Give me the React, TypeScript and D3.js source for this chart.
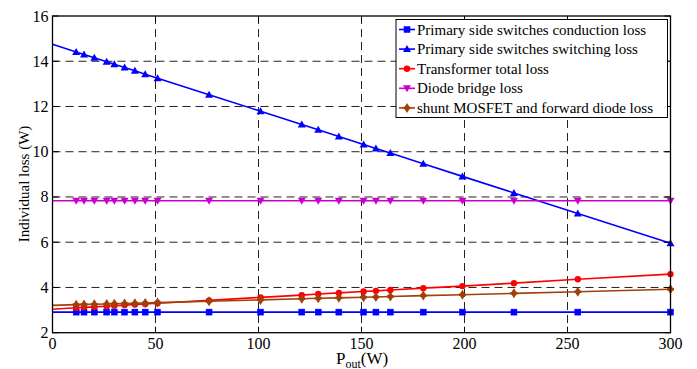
import React from "react";
import * as d3 from "d3";

const xValues = [0, 11.5, 15.3, 20.3, 26.3, 30, 35, 40, 45, 51, 76, 101, 121, 129, 139, 151, 157, 164, 180, 199, 224, 255, 300];
const conductionLoss = [2.91, 2.91, 2.91, 2.91, 2.91, 2.91, 2.91, 2.91, 2.91, 2.91, 2.91, 2.91, 2.91, 2.91, 2.91, 2.91, 2.91, 2.91, 2.91, 2.91, 2.91, 2.91, 2.91];
const switchingLoss = [14.75, 14.41, 14.3, 14.15, 13.98, 13.87, 13.72, 13.58, 13.43, 13.25, 12.52, 11.79, 11.2, 10.97, 10.67, 10.32, 10.14, 9.94, 9.47, 8.91, 8.18, 7.27, 5.95];
const transformerLoss = [3.04, 3.1, 3.12, 3.14, 3.17, 3.19, 3.22, 3.25, 3.27, 3.3, 3.43, 3.56, 3.66, 3.71, 3.76, 3.82, 3.85, 3.89, 3.97, 4.06, 4.19, 4.36, 4.59];
const diodeBridgeLoss = [7.83, 7.83, 7.83, 7.83, 7.83, 7.83, 7.83, 7.83, 7.83, 7.83, 7.83, 7.83, 7.83, 7.83, 7.83, 7.83, 7.83, 7.83, 7.83, 7.83, 7.83, 7.83, 7.83];
const shuntLoss = [3.21, 3.24, 3.25, 3.26, 3.27, 3.28, 3.29, 3.3, 3.31, 3.33, 3.39, 3.45, 3.5, 3.52, 3.54, 3.57, 3.58, 3.6, 3.64, 3.68, 3.74, 3.81, 3.92];

const seriesNames = [
  "Primary side switches conduction loss",
  "Primary side switches switching loss",
  "Transformer total loss",
  "Diode bridge loss",
  "shunt MOSFET and forward diode loss",
];
const xTicks = [0, 50, 100, 150, 200, 250, 300];
const yTicks = [2, 4, 6, 8, 10, 12, 14, 16];

type Marker = "square" | "triangle" | "circle" | "triangleDown" | "star";
const series: { name: string; values: number[]; color: string; marker: Marker }[] = [
  { name: seriesNames[0], values: conductionLoss, color: "#0000ff", marker: "square" },
  { name: seriesNames[1], values: switchingLoss, color: "#0000ff", marker: "triangle" },
  { name: seriesNames[2], values: transformerLoss, color: "#ff0000", marker: "circle" },
  { name: seriesNames[3], values: diodeBridgeLoss, color: "#cc00cc", marker: "triangleDown" },
  { name: seriesNames[4], values: shuntLoss, color: "#a0400a", marker: "star" },
];

const W = 697;
const H = 369;
const left = 52.5;
const right = 670.5;
const top = 16;
const bottom = 332.7;
const FONT = "'Liberation Serif', serif";

function MarkerShape({ type, x, y, color }: { type: Marker; x: number; y: number; color: string }) {
  switch (type) {
    case "square":
      return <rect x={x - 3} y={y - 3} width={6} height={6} fill={color} stroke={color} strokeWidth={0.5} />;
    case "triangle":
      return <path d={`M${x},${y - 4}L${x + 4},${y + 3}L${x - 4},${y + 3}Z`} fill={color} />;
    case "triangleDown":
      return <path d={`M${x},${y + 4}L${x + 4},${y - 3}L${x - 4},${y - 3}Z`} fill={color} />;
    case "circle":
      return <circle cx={x} cy={y} r={3.2} fill={color} />;
    case "star":
      return (
        <g>
          <path d={`M${x},${y - 5}L${x + 3.2},${y}L${x},${y + 5}L${x - 3.2},${y}Z`} fill={color} />
          <rect x={x - 3.5} y={y - 1.2} width={7} height={2.4} fill={color} />
        </g>
      );
  }
}

export default function App() {
  const x = d3.scaleLinear().domain([0, 300]).range([left, right]);
  const y = d3.scaleLinear().domain([2, 16]).range([bottom, top]);
  const line = d3
    .line<number>()
    .x((_, i) => x(xValues[i]))
    .y((d) => y(d));

  const legX = 396;
  const legY = 19.5;
  const legW = 271.5;
  const legH = 98;
  const rowH = 19.6;
  const ts = { fontFamily: FONT };

  return (
    <svg width={W} height={H} style={{ position: "absolute", left: 0, top: 0, background: "#fff", fontFamily: FONT }}>
      <rect x={0} y={0} width={W} height={H} fill="#fff" />
      {xTicks.slice(1, -1).map((t) => (
        <line key={"gx" + t} x1={x(t)} x2={x(t)} y1={top} y2={bottom} stroke="#222" strokeWidth={1} strokeDasharray="8,5" />
      ))}
      {yTicks.slice(1, -1).map((t) => (
        <line key={"gy" + t} x1={left} x2={right} y1={y(t)} y2={y(t)} stroke="#222" strokeWidth={1} strokeDasharray="8,5" />
      ))}
      {series.map((s) => (
        <g key={s.name}>
          <path d={line(s.values) || ""} fill="none" stroke={s.color} strokeWidth={1.6} />
          {s.values.map((v, i) =>
            i === 0 ? null : <MarkerShape key={i} type={s.marker} x={x(xValues[i])} y={y(v)} color={s.color} />
          )}
        </g>
      ))}
      <rect x={left} y={top} width={right - left} height={bottom - top} fill="none" stroke="#000" strokeWidth={1.3} />
      {xTicks.map((t) => (
        <g key={"xt" + t}>
          <line x1={x(t)} x2={x(t)} y1={bottom} y2={bottom - 6} stroke="#000" />
          <line x1={x(t)} x2={x(t)} y1={top} y2={top + 6} stroke="#000" />
          <text x={x(t)} y={349} fontSize={16} textAnchor="middle" fill="#000" style={ts}>
            {t}
          </text>
        </g>
      ))}
      {yTicks.map((t) => (
        <g key={"yt" + t}>
          <line x1={left} x2={left + 6} y1={y(t)} y2={y(t)} stroke="#000" />
          <line x1={right} x2={right - 6} y1={y(t)} y2={y(t)} stroke="#000" />
          <text x={48.5} y={y(t) + 5.5} fontSize={16} textAnchor="end" fill="#000" style={ts}>
            {t}
          </text>
        </g>
      ))}
      <text transform="translate(29,184) rotate(-90)" fontSize={15} textAnchor="middle" fill="#000" style={ts}>
        Individual loss (W)
      </text>
      <text x={362} y={363.5} fontSize={17} textAnchor="middle" fill="#000" style={ts}>
        P<tspan fontSize={12} dy={4}>out</tspan>
        <tspan dy={-4}>(W)</tspan>
      </text>
      <rect x={legX} y={legY} width={legW} height={legH} fill="#fff" stroke="#000" strokeWidth={1} />
      {series.map((s, i) => {
        const cy = legY + 10 + i * rowH;
        return (
          <g key={"leg" + i}>
            <line x1={legX + 3} x2={legX + 19} y1={cy} y2={cy} stroke={s.color} strokeWidth={1.6} />
            <MarkerShape type={s.marker} x={legX + 11} y={cy} color={s.color} />
            <text x={legX + 21} y={cy + 5} fontSize={15} fill="#000" style={ts}>
              {s.name}
            </text>
          </g>
        );
      })}
    </svg>
  );
}
